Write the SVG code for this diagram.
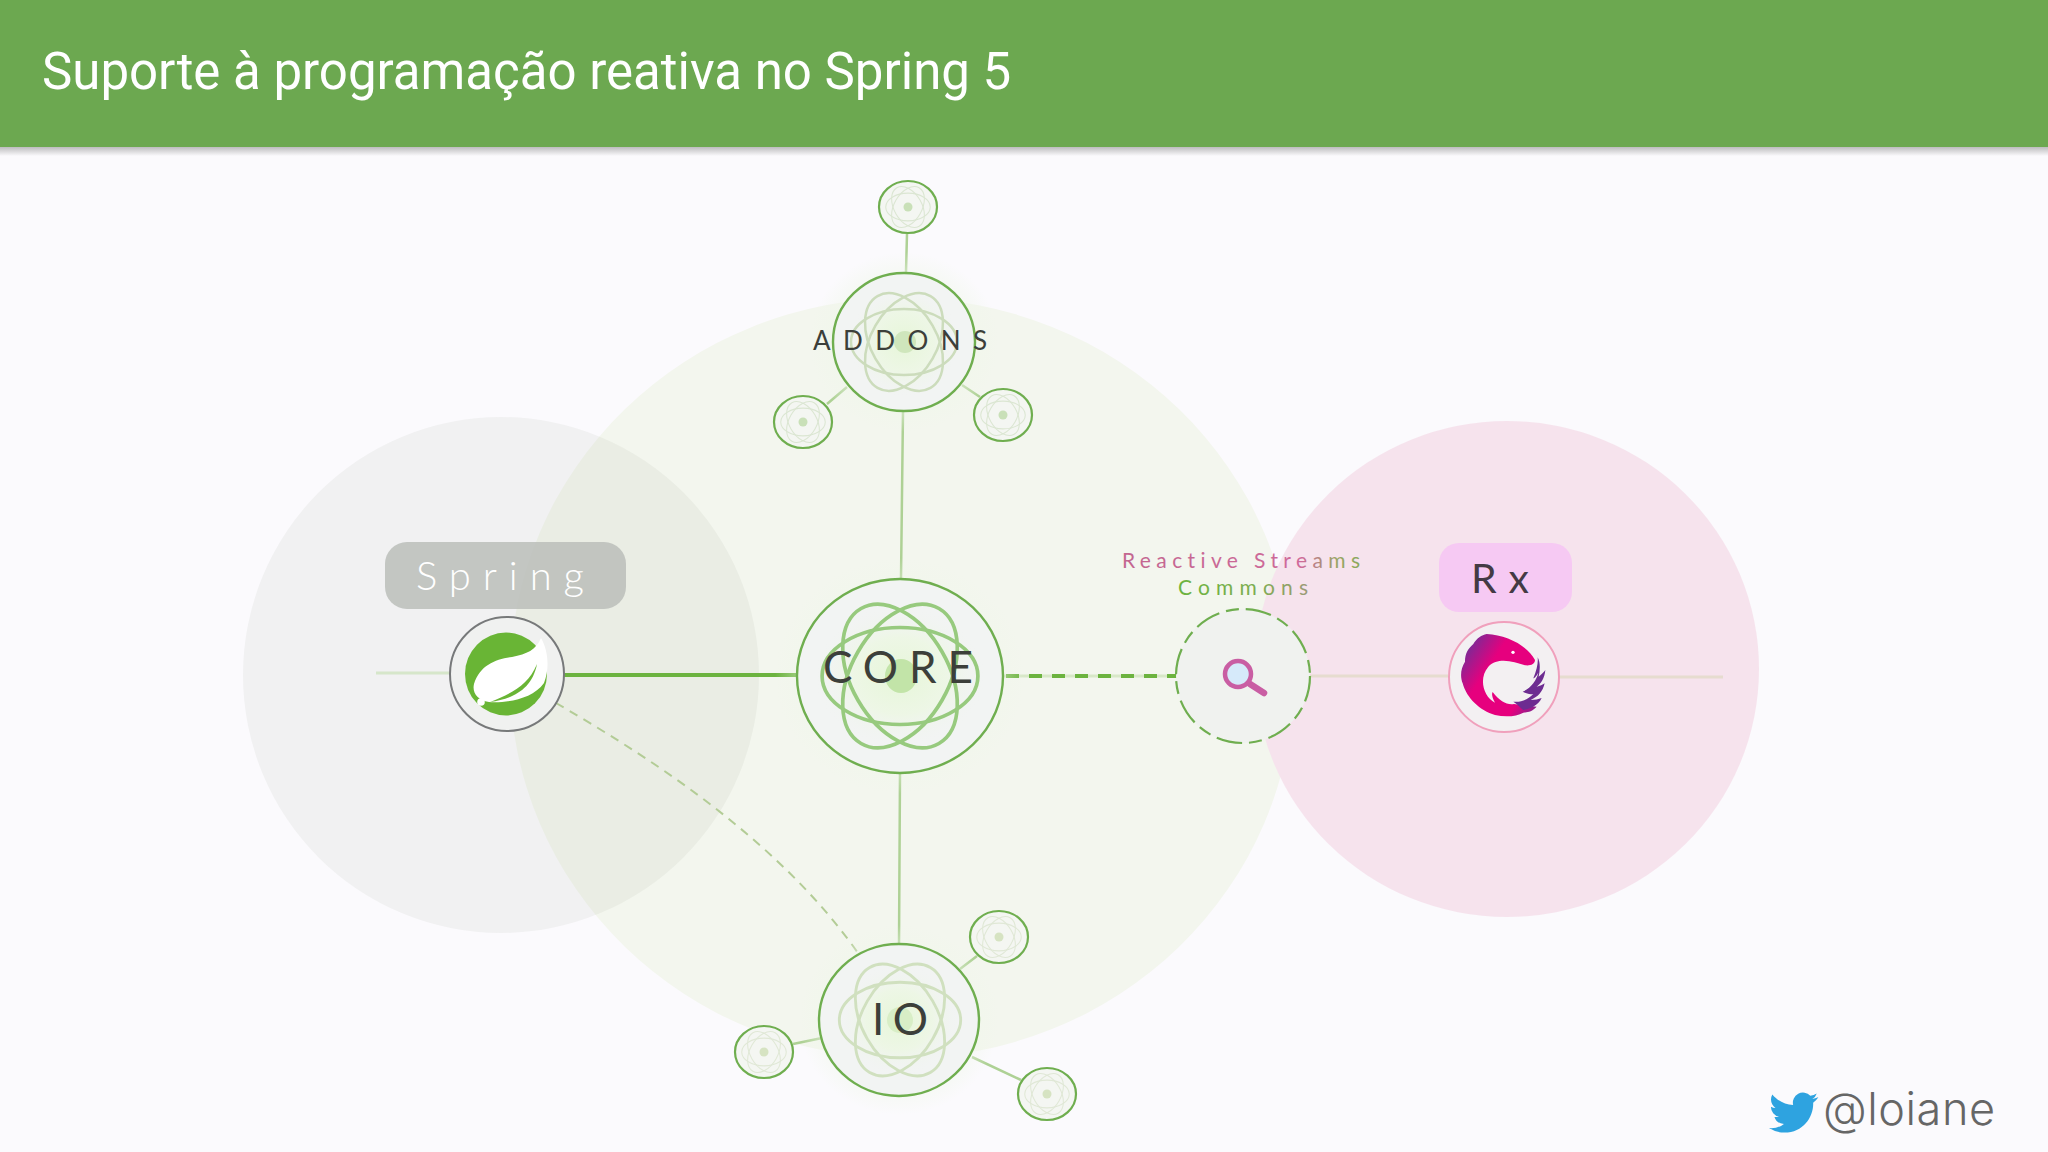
<svg xmlns="http://www.w3.org/2000/svg" xmlns:xlink="http://www.w3.org/1999/xlink" width="2048" height="1152" viewBox="0 0 2048 1152">
<style>
.lbl{font-family:Lato,"Noto Sans",sans-serif;font-weight:400;font-variant-ligatures:none}
.dark{fill:#3c3f3a}
.orb{fill:none;stroke-width:2.5}
.sat{fill:#f4f6f2;stroke:#6fae4f;stroke-width:2.2}
.main{fill:#f2f4f3;stroke:#6fae4f;stroke-width:2.4}
.con{fill:none;stroke:#aed195;stroke-width:2.5}
</style>
<defs>
<linearGradient id="shade" x1="0" y1="0" x2="0" y2="1"><stop offset="0" stop-color="#8a8a8a" stop-opacity=".55"/><stop offset="1" stop-color="#8a8a8a" stop-opacity="0"/></linearGradient>
<radialGradient id="glow"><stop offset="0" stop-color="#e6f6d8"/><stop offset=".55" stop-color="#ecf7e2" stop-opacity=".8"/><stop offset="1" stop-color="#f1f3f2" stop-opacity="0"/></radialGradient>
<radialGradient id="halo"><stop offset=".7" stop-color="#f0f7ea" stop-opacity=".6"/><stop offset="1" stop-color="#f0f7ea" stop-opacity="0"/></radialGradient>
<linearGradient id="rs1" gradientUnits="userSpaceOnUse" x1="1122" y1="0" x2="1360" y2="0"><stop offset="0" stop-color="#c2668f"/><stop offset=".75" stop-color="#cf6a9a"/><stop offset=".9" stop-color="#9aa565"/><stop offset="1" stop-color="#8aa85c"/></linearGradient>
<linearGradient id="rs2" gradientUnits="userSpaceOnUse" x1="1178" y1="0" x2="1308" y2="0"><stop offset="0" stop-color="#6cb33f"/><stop offset=".6" stop-color="#7dad50"/><stop offset="1" stop-color="#9c9a78"/></linearGradient>
<linearGradient id="rxg" gradientUnits="userSpaceOnUse" x1="1120" y1="400" x2="1360" y2="560"><stop offset="0" stop-color="#7b2a96"/><stop offset=".3" stop-color="#e6007e"/><stop offset=".75" stop-color="#e6007e"/><stop offset="1" stop-color="#6d2c91"/></linearGradient>
<g id="atom">
<ellipse class="orb" rx="53" ry="33"/>
<ellipse class="orb" rx="53" ry="33" transform="rotate(60)"/>
<ellipse class="orb" rx="53" ry="33" transform="rotate(-60)"/>
</g>
</defs>
<rect width="2048" height="1152" fill="#fbfafd"/>
<g id="backdrops">
<ellipse cx="902" cy="678" rx="392" ry="380" fill="#f3f6ee"/>
<circle cx="501" cy="675" r="258" fill="#8f9c85" fill-opacity=".09"/>
<ellipse cx="1507" cy="669" rx="252" ry="248" fill="#f6e2ec" fill-opacity=".97"/>
</g>
<g id="header">
<rect y="147" width="2048" height="9" fill="url(#shade)"/>
<rect width="2048" height="147" fill="#6ca850"/>
<text x="42" y="89" font-family="Roboto,sans-serif" font-size="51" fill="#fff">Suporte à programação reativa no Spring 5</text>
</g>
<g id="connectors">
<path class="con" d="M907 234L906 272M847 387L827 404M962 385L980 397M903 411L901 579M900 772L899 944M960 969L977 956M822 1038L793 1044M972 1057L1021 1080"/>
<path d="M376 673H450" fill="none" stroke="#d6e6ca" stroke-width="3"/>
<path d="M564 675H797" fill="none" stroke="#6cb33f" stroke-width="4"/>
<path d="M1004 676H1177" fill="none" stroke="#d8e8c8" stroke-width="3"/>
<path d="M1006 676H1177" fill="none" stroke="#6cb33f" stroke-width="4" stroke-dasharray="13 10"/>
<path d="M1309 676H1448M1559 677H1723" fill="none" stroke="#e6dccf" stroke-width="3"/>
<path d="M556 703C640 752 775 835 858 953" fill="none" stroke="#b3cc96" stroke-width="2" stroke-dasharray="9 7"/>
</g>
<g id="addons">
<ellipse cx="904" cy="342" rx="95" ry="90" fill="url(#halo)"/>
<ellipse class="main" cx="904" cy="342" rx="71" ry="69"/>
<ellipse cx="904" cy="342" rx="55" ry="55" fill="url(#glow)"/>
<use xlink:href="#atom" href="#atom" transform="translate(904 342)" stroke="#ccdcbc"/>
<circle cx="905" cy="342" r="11" fill="#cfe6bc"/>
<text class="lbl dark" x="813" y="350" font-size="26" textLength="174" lengthAdjust="spacing">ADDONS</text>
</g>
<g id="addons-sat-top">
<ellipse class="sat" cx="908" cy="207" rx="29" ry="26"/>
<use href="#atom" transform="translate(908 207) scale(.42)" stroke="#dbe6d2"/>
<circle cx="908" cy="207" r="4.5" fill="#c9e0b8"/>
</g>
<g id="addons-sat-left">
<ellipse class="sat" cx="803" cy="422" rx="29" ry="26"/>
<use href="#atom" transform="translate(803 422) scale(.42)" stroke="#dbe6d2"/>
<circle cx="803" cy="422" r="4.5" fill="#c9e0b8"/>
</g>
<g id="addons-sat-right">
<ellipse class="sat" cx="1003" cy="415" rx="29" ry="26"/>
<use href="#atom" transform="translate(1003 415) scale(.42)" stroke="#dbe6d2"/>
<circle cx="1003" cy="415" r="4.5" fill="#c9e0b8"/>
</g>
<g id="core">
<ellipse cx="900" cy="676" rx="125" ry="118" fill="url(#halo)"/>
<ellipse class="main" cx="900" cy="676" rx="103" ry="97"/>
<ellipse cx="900" cy="676" rx="85" ry="70" fill="url(#glow)"/>
<use href="#atom" transform="translate(900 676) scale(1.47)" stroke="#97ca7e"/>
<ellipse cx="901" cy="676" rx="16" ry="17" fill="#c2e4a8"/>
<text class="lbl dark" x="823" y="683" font-size="44" textLength="150" lengthAdjust="spacing">CORE</text>
</g>
<g id="io">
<ellipse cx="899" cy="1020" rx="100" ry="95" fill="url(#halo)"/>
<ellipse class="main" cx="899" cy="1020" rx="80" ry="76"/>
<ellipse cx="899" cy="1020" rx="60" ry="55" fill="url(#glow)"/>
<use href="#atom" transform="translate(900 1020) scale(1.145)" stroke="#d0e0bf"/>
<circle cx="900" cy="1020" r="13" fill="#d8eec6"/>
<text class="lbl dark" x="872" y="1035" font-size="44" textLength="56" lengthAdjust="spacing">IO</text>
</g>
<g id="io-sat-top">
<ellipse class="sat" cx="999" cy="937" rx="29" ry="26"/>
<use href="#atom" transform="translate(999 937) scale(.42)" stroke="#e0e8d6"/>
<circle cx="999" cy="937" r="4.5" fill="#d6e3c2"/>
</g>
<g id="io-sat-left">
<ellipse class="sat" cx="764" cy="1052" rx="29" ry="26"/>
<use href="#atom" transform="translate(764 1052) scale(.42)" stroke="#e0e8d6"/>
<circle cx="764" cy="1052" r="4.5" fill="#d6e3c2"/>
</g>
<g id="io-sat-right">
<ellipse class="sat" cx="1047" cy="1094" rx="29" ry="26"/>
<use href="#atom" transform="translate(1047 1094) scale(.42)" stroke="#e0e8d6"/>
<circle cx="1047" cy="1094" r="4.5" fill="#d6e3c2"/>
</g>
<g id="spring">
<rect x="385" y="542" width="241" height="67" rx="22" fill="#bcbfbb" fill-opacity=".88"/>
<text class="lbl" style="font-weight:300" x="416" y="590" font-size="40" fill="#fff" textLength="168" lengthAdjust="spacing">Spring</text>
<ellipse cx="507" cy="674" rx="57" ry="57" fill="#f0f1f0" stroke="#77797a" stroke-width="2"/>
<ellipse cx="506" cy="674" rx="41" ry="41.5" fill="#69b535"/>
<path d="M541 638C536 650 527 654 512 657C496 659 480 665 474 684C472 692 477 700 489 702C505 703 532 700 544 683C550 668 548 650 541 638Z" fill="#fff"/>
<path d="M490 702C510 694 528 686 537 664C532 690 512 699 490 702Z" fill="#69b535"/>
<circle cx="481" cy="702" r="3.8" fill="#fff"/>
</g>
<g id="reactive-streams">
<circle cx="1243" cy="676" r="67" fill="#f0f2ef" stroke="#6fae4f" stroke-width="2.2" stroke-dasharray="26 7 13 7"/>
<text class="lbl" x="1122" y="568" font-size="21" fill="url(#rs1)" textLength="238" lengthAdjust="spacing">Reactive Streams</text>
<text class="lbl" x="1178" y="595" font-size="21" fill="url(#rs2)" textLength="130" lengthAdjust="spacing">Commons</text>
<path d="M1250 684L1264 693" stroke="#c95ea3" stroke-width="6.5" stroke-linecap="round" fill="none"/>
<circle cx="1238" cy="674" r="13" fill="#d6eafa" stroke="#c95ea3" stroke-width="4.5"/>
</g>
<g id="rx">
<rect x="1439" y="543" width="133" height="69" rx="20" fill="#f6c9f3"/>
<text class="lbl" x="1471" y="593" font-size="41" fill="#443a44" textLength="58" lengthAdjust="spacing">Rx</text>
<circle cx="1504" cy="677" r="55" fill="#f3f0f2" stroke="#f0a0bc" stroke-width="2"/>
<g transform="translate(1090 520) scale(.33333)">
<path fill="url(#rxg)" d="M1190 342C1250 345 1310 375 1335 420C1335 432 1322 438 1305 436C1270 425 1225 410 1195 440C1165 475 1180 530 1215 548C1205 530 1205 520 1208 516C1230 545 1250 555 1272 552L1340 560C1320 580 1310 575 1300 578C1280 590 1245 592 1215 585C1170 572 1130 535 1118 490C1110 470 1112 445 1125 425C1125 400 1135 385 1150 372C1160 355 1175 345 1190 342Z"/>
<path fill="#6d2c91" d="M1343 412C1352 430 1350 450 1346 470C1356 462 1362 456 1366 450C1364 475 1352 492 1340 500C1350 498 1358 494 1364 490C1358 515 1345 530 1322 540C1335 540 1345 538 1355 534C1345 555 1325 565 1300 570C1290 562 1280 550 1270 545C1290 548 1312 540 1330 522C1316 524 1308 520 1298 515C1322 505 1340 480 1345 458C1338 470 1335 473 1330 475C1340 450 1345 430 1343 412Z"/>
<circle cx="1269" cy="397" r="5" fill="#fff"/>
</g>
</g>
<g id="twitter">
<path fill="#2ea3e0" transform="translate(1769 1088) scale(2.05)" d="M23.953 4.57a10 10 0 01-2.825.775 4.958 4.958 0 002.163-2.723c-.951.555-2.005.959-3.127 1.184a4.92 4.92 0 00-8.384 4.482C7.69 8.095 4.067 6.13 1.64 3.162a4.822 4.822 0 00-.666 2.475c0 1.71.87 3.213 2.188 4.096a4.904 4.904 0 01-2.228-.616v.06a4.923 4.923 0 003.946 4.827 4.996 4.996 0 01-2.212.085 4.936 4.936 0 004.604 3.417 9.867 9.867 0 01-6.102 2.105c-.39 0-.779-.023-1.17-.067a13.995 13.995 0 007.557 2.209c9.053 0 13.998-7.496 13.998-13.985 0-.21 0-.42-.015-.63A9.935 9.935 0 0024 4.59z"/>
<text x="1823" y="1125" font-family="Inter,sans-serif" font-weight="300" font-size="45" fill="#666" textLength="172" lengthAdjust="spacing">@loiane</text>
</g>
</svg>
